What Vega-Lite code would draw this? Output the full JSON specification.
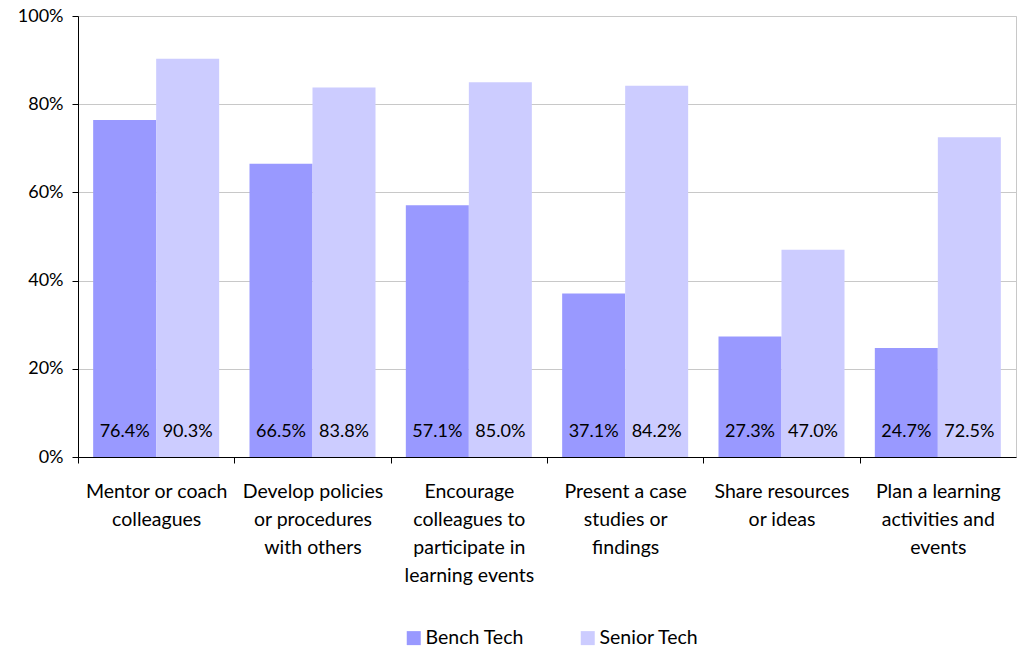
{
  "$schema": "https://vega.github.io/schema/vega-lite/v6.json",
  "width": 938,
  "height": 441,
  "autosize": "none",
  "padding": {"left": 78, "top": 16, "right": 1, "bottom": 191},
  "background": "white",
  "config": {
    "font": "Lato",
    "view": {"stroke": "#c8c8c8", "strokeWidth": 1},
    "axis": {"labelFont": "Lato", "labelFontSize": 18, "labelColor": "#000000", "domainColor": "#000000", "tickColor": "#000000", "tickSize": 6, "titleFont": "Lato"},
    "legend": {"labelFont": "Lato", "labelFontSize": 19.5, "labelColor": "#000000"}
  },
  "data": {
    "values": [
      {"category": "Mentor or coach colleagues", "group": "Bench Tech", "value": 0.764},
      {"category": "Mentor or coach colleagues", "group": "Senior Tech", "value": 0.903},
      {"category": "Develop policies or procedures with others", "group": "Bench Tech", "value": 0.665},
      {"category": "Develop policies or procedures with others", "group": "Senior Tech", "value": 0.838},
      {"category": "Encourage colleagues to participate in learning events", "group": "Bench Tech", "value": 0.571},
      {"category": "Encourage colleagues to participate in learning events", "group": "Senior Tech", "value": 0.850},
      {"category": "Present a case studies or findings", "group": "Bench Tech", "value": 0.371},
      {"category": "Present a case studies or findings", "group": "Senior Tech", "value": 0.842},
      {"category": "Share resources or ideas", "group": "Bench Tech", "value": 0.273},
      {"category": "Share resources or ideas", "group": "Senior Tech", "value": 0.470},
      {"category": "Plan a learning activities and events", "group": "Bench Tech", "value": 0.247},
      {"category": "Plan a learning activities and events", "group": "Senior Tech", "value": 0.725}
    ]
  },
  "encoding": {
    "x": {
      "field": "category",
      "type": "nominal",
      "sort": null,
      "title": null,
      "scale": {"paddingInner": 0.194, "paddingOuter": 0.097},
      "axis": {
        "labelAngle": 0,
        "tickOffset": -78.17,
        "labelOffset": 78.17,
        "labelFontSize": 19.5,
        "labelPadding": 19,
        "labelLineHeight": 28,
        "labelBaseline": "top",
        "labelLimit": 0,
        "domainWidth": 1,
        "labelExpr": "{'Mentor or coach colleagues': ['Mentor or coach','colleagues'], 'Develop policies or procedures with others': ['Develop policies','or procedures','with others'], 'Encourage colleagues to participate in learning events': ['Encourage','colleagues to','participate in','learning events'], 'Present a case studies or findings': ['Present a case','studies or','findings'], 'Share resources or ideas': ['Share resources','or ideas'], 'Plan a learning activities and events': ['Plan a learning','activities and','events']}[datum.label]"
      }
    },
    "xOffset": {"field": "group", "type": "nominal", "sort": ["Bench Tech", "Senior Tech"], "scale": {"paddingInner": 0, "paddingOuter": 0}}
  },
  "layer": [
    {
      "mark": {"type": "bar"},
      "encoding": {
        "y": {
          "field": "value",
          "type": "quantitative",
          "title": null,
          "scale": {"domain": [0, 1]},
          "axis": {
            "values": [0, 0.2, 0.4, 0.6, 0.8, 1],
            "format": ".0%",
            "gridColor": "#c8c8c8",
            "grid": true,
            "labelPadding": 9,
            "domainWidth": 1
          }
        },
        "color": {
          "field": "group",
          "type": "nominal",
          "sort": ["Bench Tech", "Senior Tech"],
          "scale": {"domain": ["Bench Tech", "Senior Tech"], "range": ["#9999FF", "#CCCCFF"]},
          "legend": {
            "title": null,
            "orient": "none",
            "direction": "horizontal",
            "legendX": 326,
            "legendY": 612,
            "symbolType": "square",
            "symbolSize": 196,
            "symbolStrokeWidth": 0,
            "labelOffset": 2,
            "columnPadding": 54
          }
        }
      }
    },
    {
      "mark": {"type": "text", "dy": -25, "fontSize": 18, "color": "#000000", "baseline": "middle"},
      "encoding": {
        "y": {"datum": 0, "type": "quantitative"},
        "text": {"field": "value", "type": "quantitative", "format": ".1%"},
        "detail": {"field": "group"}
      }
    }
  ]
}
